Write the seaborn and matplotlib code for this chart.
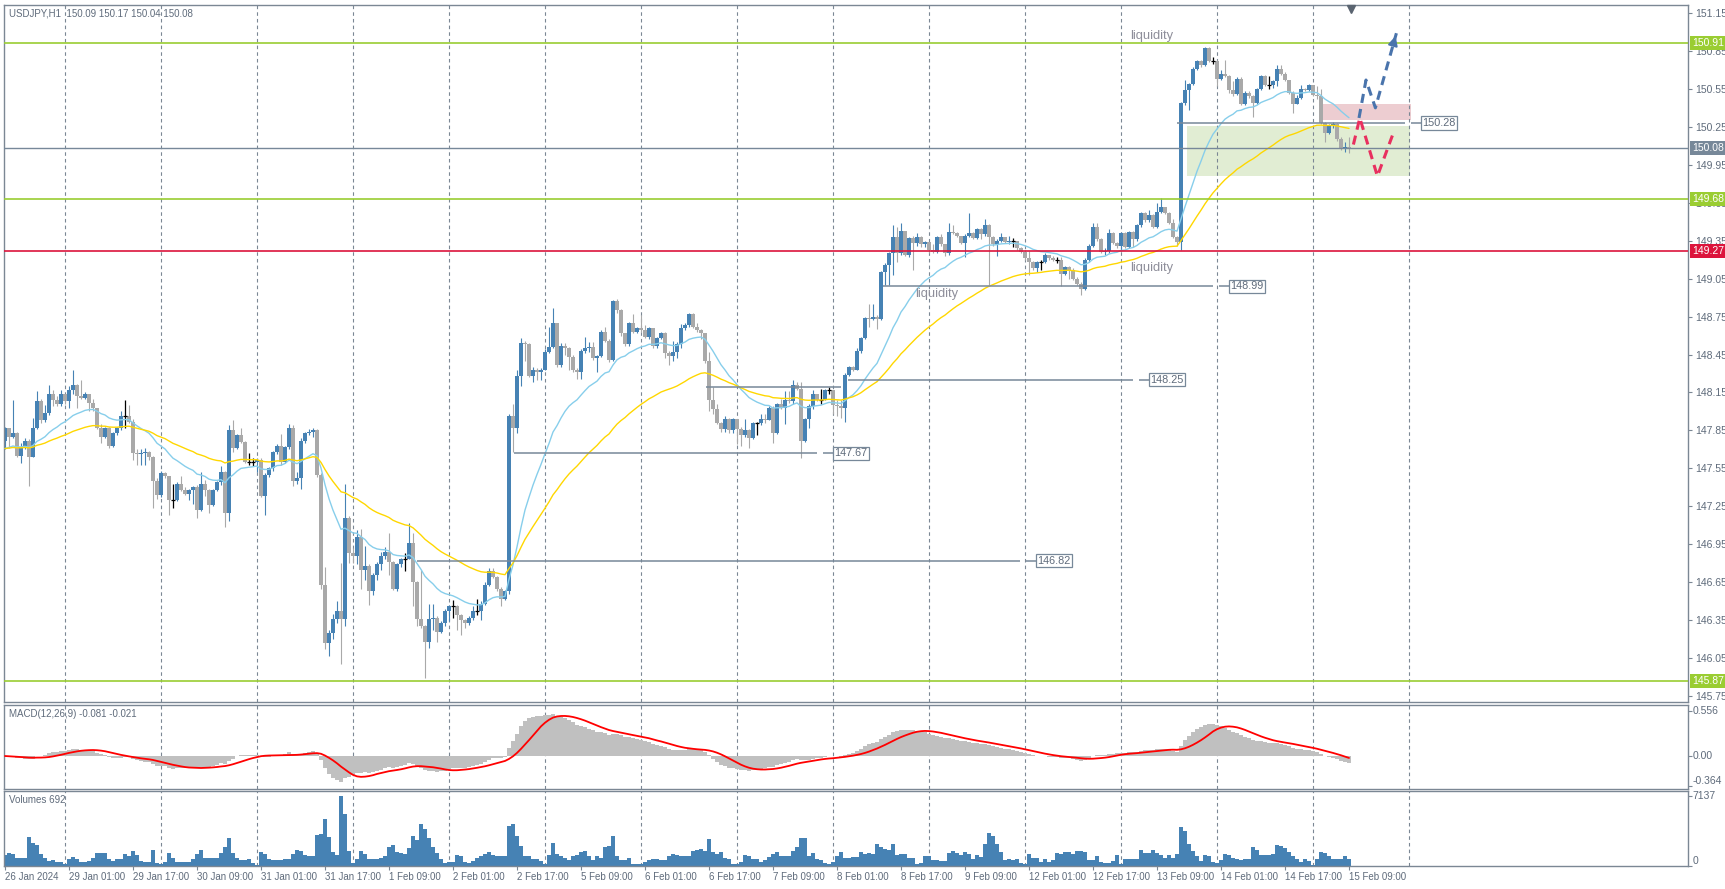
import numpy as np
import pandas as pd
import matplotlib
matplotlib.use("Agg")
import matplotlib.pyplot as plt
from matplotlib.patches import Rectangle
import seaborn as sns

# ---------------- data ----------------
header = "USDJPY,H1  150.09 150.17 150.04 150.08"
macd_header = "MACD(12,26,9) -0.081 -0.021"
volume_header = "Volumes 692"

first_open = 147.77
closes = [
    147.87, 147.80, 147.83, 147.65, 147.72, 147.77, 147.64, 147.87, 148.08, 147.93,
    147.99, 148.14, 148.09, 148.06, 148.14, 148.08, 148.17, 148.21, 148.12, 148.11,
    148.14, 148.07, 148.03, 147.87, 147.80, 147.87, 147.73, 147.83, 147.87, 147.96,
    147.96, 147.92, 147.67, 147.66, 147.67, 147.68, 147.64, 147.45, 147.34, 147.51,
    147.49, 147.30, 147.30, 147.43, 147.38, 147.35, 147.38, 147.40, 147.22, 147.43,
    147.38, 147.26, 147.38, 147.44, 147.52, 147.20, 147.85, 147.71, 147.81, 147.76,
    147.60, 147.60, 147.60, 147.62, 147.33, 147.50, 147.55, 147.68, 147.73, 147.60,
    147.72, 147.87, 147.45, 147.47, 147.77, 147.83, 147.84, 147.85, 147.50, 146.63,
    146.17, 146.25, 146.36, 146.42, 146.36, 147.16, 146.88, 146.86, 147.01, 146.75,
    146.78, 146.58, 146.71, 146.79, 146.86, 146.89, 146.81, 146.60, 146.79, 146.83,
    146.83, 146.96, 146.65, 146.36, 146.30, 146.18, 146.36, 146.37, 146.26, 146.33,
    146.42, 146.46, 146.46, 146.39, 146.35, 146.33, 146.37, 146.42, 146.42, 146.48,
    146.63, 146.74, 146.69, 146.60, 146.52, 146.58, 147.96, 147.87, 148.28, 148.54,
    148.53, 148.28, 148.33, 148.31, 148.33, 148.47, 148.51, 148.70, 148.37, 148.52,
    148.50, 148.43, 148.33, 148.31, 148.48, 148.50, 148.51, 148.42, 148.44, 148.63,
    148.56, 148.41, 148.87, 148.80, 148.62, 148.53, 148.70, 148.63, 148.66, 148.64,
    148.59, 148.66, 148.52, 148.58, 148.62, 148.46, 148.44, 148.47, 148.53, 148.66,
    148.68, 148.77, 148.67, 148.64, 148.62, 148.40, 148.09, 148.02, 147.91, 147.86,
    147.94, 147.85, 147.94, 147.86, 147.81, 147.85, 147.79, 147.91, 147.91, 147.94,
    147.93, 148.03, 147.83, 148.06, 148.03, 148.09, 148.08, 148.21, 148.18, 147.77,
    147.94, 148.04, 148.14, 148.09, 148.09, 148.17, 148.17, 148.05, 148.04, 148.03,
    148.29, 148.35, 148.33, 148.48, 148.58, 148.74, 148.73, 148.75, 148.73, 149.10,
    149.16, 149.25, 149.38, 149.25, 149.43, 149.24, 149.37, 149.33, 149.38, 149.32,
    149.34, 149.28, 149.26, 149.38, 149.32, 149.25, 149.42, 149.41, 149.39, 149.33,
    149.39, 149.41, 149.37, 149.44, 149.40, 149.47, 149.38, 149.32, 149.35, 149.38,
    149.34, 149.35, 149.35, 149.29, 149.26, 149.21, 149.18, 149.13, 149.18, 149.18,
    149.24, 149.21, 149.20, 149.20, 149.09, 149.14, 149.12, 149.05, 149.01, 148.97,
    149.20, 149.31, 149.46, 149.36, 149.26, 149.27, 149.41, 149.33, 149.31, 149.41,
    149.30, 149.42, 149.36, 149.47, 149.57, 149.51, 149.55, 149.46, 149.58, 149.62,
    149.57, 149.49, 149.38, 149.34, 150.44, 150.54, 150.59, 150.71, 150.77, 150.74,
    150.87, 150.77, 150.77, 150.63, 150.67, 150.65, 150.54, 150.51, 150.63, 150.43,
    150.52, 150.49, 150.44, 150.55, 150.65, 150.58, 150.58, 150.61, 150.71, 150.67,
    150.62, 150.52, 150.43, 150.48, 150.55, 150.54, 150.58, 150.50, 150.49, 150.28,
    150.20, 150.26, 150.27, 150.15, 150.08, 150.09, 150.08,
]
highs = [
    147.88, 147.85, 148.09, 147.84, 147.75, 147.79, 147.78, 147.95, 148.16, 148.10,
    148.05, 148.21, 148.17, 148.12, 148.17, 148.14, 148.20, 148.33, 148.22, 148.25,
    148.15, 148.14, 148.10, 148.02, 147.90, 147.88, 147.88, 147.84, 147.88, 148.00,
    148.09, 148.05, 147.94, 147.70, 147.70, 147.71, 147.69, 147.65, 147.47, 147.53,
    147.52, 147.49, 147.43, 147.44, 147.49, 147.40, 147.39, 147.41, 147.42, 147.52,
    147.46, 147.39, 147.39, 147.45, 147.57, 147.53, 147.89, 147.93, 147.82, 147.87,
    147.77, 147.67, 147.63, 147.63, 147.63, 147.51, 147.56, 147.69, 147.74, 147.82,
    147.73, 147.90, 147.89, 147.52, 147.79, 147.84, 147.86, 147.87, 147.86, 147.51,
    146.77, 146.27, 146.40, 146.50, 146.80, 147.43, 147.17, 146.92, 147.06, 147.07,
    146.94, 146.79, 146.72, 146.81, 146.89, 146.93, 147.04, 146.82, 146.80, 146.84,
    146.88, 147.12, 147.04, 146.66, 146.75, 146.31, 146.48, 146.48, 146.38, 146.34,
    146.44, 146.47, 146.51, 146.47, 146.40, 146.36, 146.38, 146.46, 146.52, 146.50,
    146.65, 146.76, 146.76, 146.70, 146.61, 146.59, 147.98, 148.06, 148.33, 148.58,
    148.56, 148.54, 148.35, 148.34, 148.34, 148.49, 148.67, 148.82, 148.68, 148.54,
    148.54, 148.51, 148.45, 148.34, 148.49, 148.59, 148.55, 148.55, 148.45, 148.64,
    148.67, 148.57, 148.88, 148.89, 148.81, 148.61, 148.71, 148.77, 148.67, 148.76,
    148.68, 148.67, 148.66, 148.59, 148.63, 148.63, 148.48, 148.56, 148.55, 148.69,
    148.70, 148.78, 148.78, 148.70, 148.65, 148.62, 148.47, 148.19, 148.06, 147.92,
    147.96, 147.95, 147.95, 147.94, 147.88, 147.94, 147.86, 147.92, 147.92, 147.98,
    147.98, 148.04, 148.04, 148.07, 148.10, 148.16, 148.16, 148.25, 148.23, 148.23,
    147.95, 148.06, 148.17, 148.14, 148.18, 148.18, 148.19, 148.17, 148.09, 148.09,
    148.30, 148.36, 148.36, 148.50, 148.59, 148.75, 148.85, 148.85, 148.76, 149.11,
    149.17, 149.26, 149.47, 149.46, 149.49, 149.43, 149.38, 149.39, 149.41, 149.39,
    149.35, 149.30, 149.32, 149.39, 149.40, 149.32, 149.49, 149.47, 149.42, 149.39,
    149.40, 149.57, 149.42, 149.45, 149.45, 149.52, 149.48, 149.39, 149.36, 149.41,
    149.38, 149.39, 149.37, 149.35, 149.30, 149.28, 149.27, 149.19, 149.19, 149.20,
    149.25, 149.24, 149.23, 149.22, 149.22, 149.15, 149.15, 149.13, 149.06, 149.02,
    149.21, 149.32, 149.49, 149.49, 149.37, 149.29, 149.44, 149.42, 149.34, 149.42,
    149.42, 149.43, 149.43, 149.48, 149.58, 149.58, 149.59, 149.56, 149.65, 149.69,
    149.62, 149.58, 149.52, 149.39, 150.45, 150.62, 150.60, 150.72, 150.78, 150.78,
    150.88, 150.88, 150.80, 150.78, 150.70, 150.78, 150.66, 150.61, 150.64, 150.64,
    150.53, 150.53, 150.50, 150.56, 150.66, 150.66, 150.65, 150.62, 150.74, 150.74,
    150.68, 150.62, 150.53, 150.50, 150.58, 150.56, 150.59, 150.58, 150.57, 150.55,
    150.29, 150.27, 150.29, 150.28, 150.17, 150.13, 150.17,
]
lows = [
    147.70, 147.71, 147.79, 147.64, 147.59, 147.70, 147.41, 147.64, 147.86, 147.91,
    147.92, 147.97, 148.04, 148.04, 148.04, 148.06, 148.03, 148.14, 148.03, 148.10,
    148.10, 148.00, 148.00, 147.86, 147.75, 147.79, 147.71, 147.72, 147.81, 147.85,
    147.87, 147.91, 147.62, 147.58, 147.58, 147.58, 147.62, 147.24, 147.31, 147.32,
    147.47, 147.18, 147.24, 147.29, 147.37, 147.34, 147.30, 147.27, 147.16, 147.21,
    147.33, 147.20, 147.25, 147.37, 147.42, 147.09, 147.13, 147.68, 147.70, 147.75,
    147.59, 147.58, 147.57, 147.52, 147.32, 147.18, 147.48, 147.53, 147.66, 147.58,
    147.59, 147.70, 147.41, 147.43, 147.39, 147.75, 147.81, 147.80, 147.48, 146.60,
    146.12, 146.07, 146.20, 146.33, 146.00, 146.30, 146.80, 146.80, 146.79, 146.60,
    146.67, 146.47, 146.55, 146.67, 146.75, 146.83, 146.71, 146.59, 146.58, 146.77,
    146.74, 146.85, 146.46, 146.30, 146.29, 145.89, 146.13, 146.27, 146.18, 146.25,
    146.30, 146.34, 146.37, 146.27, 146.23, 146.29, 146.31, 146.35, 146.39, 146.35,
    146.47, 146.62, 146.68, 146.58, 146.46, 146.51, 146.56, 147.68, 147.83, 148.20,
    148.40, 148.27, 148.23, 148.25, 148.25, 148.33, 148.46, 148.50, 148.35, 148.35,
    148.45, 148.33, 148.31, 148.26, 148.26, 148.46, 148.47, 148.41, 148.31, 148.43,
    148.55, 148.39, 148.40, 148.78, 148.60, 148.52, 148.52, 148.62, 148.62, 148.63,
    148.58, 148.57, 148.50, 148.50, 148.57, 148.42, 148.37, 148.40, 148.42, 148.50,
    148.64, 148.67, 148.66, 148.63, 148.57, 148.38, 148.00, 147.98, 147.90, 147.84,
    147.84, 147.83, 147.83, 147.74, 147.73, 147.80, 147.71, 147.78, 147.81, 147.89,
    147.91, 147.94, 147.75, 147.82, 148.02, 147.90, 148.07, 148.06, 148.17, 147.63,
    147.76, 147.87, 148.02, 148.08, 148.06, 148.09, 148.14, 147.98, 147.96, 147.95,
    147.92, 148.28, 148.32, 148.33, 148.46, 148.57, 148.67, 148.72, 148.65, 148.72,
    149.00, 149.00, 149.08, 149.18, 149.24, 149.23, 149.22, 149.12, 149.31, 149.30,
    149.30, 149.25, 149.25, 149.25, 149.31, 149.23, 149.24, 149.40, 149.38, 149.32,
    149.22, 149.38, 149.36, 149.36, 149.36, 149.39, 149.00, 149.31, 149.23, 149.34,
    149.33, 149.32, 149.30, 149.28, 149.25, 149.20, 149.08, 149.12, 149.10, 149.12,
    149.17, 149.20, 149.19, 149.17, 148.99, 149.08, 149.05, 149.04, 149.00, 148.92,
    148.96, 149.18, 149.30, 149.35, 149.25, 149.24, 149.25, 149.32, 149.29, 149.27,
    149.29, 149.29, 149.30, 149.35, 149.46, 149.50, 149.50, 149.45, 149.45, 149.57,
    149.56, 149.48, 149.37, 149.31, 149.28, 150.42, 150.38, 150.58, 150.70, 150.72,
    150.73, 150.76, 150.75, 150.57, 150.62, 150.64, 150.52, 150.49, 150.50, 150.42,
    150.42, 150.48, 150.33, 150.43, 150.54, 150.57, 150.55, 150.56, 150.57, 150.66,
    150.61, 150.51, 150.36, 150.43, 150.47, 150.53, 150.53, 150.49, 150.47, 150.27,
    150.13, 150.19, 150.24, 150.14, 150.07, 150.05, 150.04,
]
volumes = [
    1140, 1310, 1200, 860, 860, 860, 3000, 2380, 2100, 1200,
    790, 520, 620, 450, 450, 170, 760, 900, 760, 450,
    450, 520, 830, 1350, 1350, 1350, 760, 480, 760, 760,
    1240, 1000, 1550, 1140, 480, 450, 450, 1650, 310, 240,
    380, 1280, 860, 450, 450, 450, 450, 760, 1240, 1650,
    860, 860, 860, 860, 1350, 1900, 2900, 1350, 860, 590,
    590, 690, 310, 100, 1380, 1240, 720, 650, 650, 650,
    720, 760, 1240, 1620, 1480, 1100, 970, 1040, 3140, 3280,
    4760, 3000, 1450, 1140, 7137, 5310, 1550, 310, 760, 1480,
    1200, 760, 760, 690, 860, 970, 1900, 2170, 1450, 1350,
    1240, 1860, 3040, 2620, 4240, 3800, 2860, 1900, 1310, 720,
    340, 450, 410, 1140, 1070, 450, 280, 550, 860, 970,
    1240, 1450, 1140, 970, 970, 970, 4100, 4240, 3040, 2070,
    970, 970, 760, 760, 520, 210, 1140, 2310, 1240, 970,
    860, 620, 970, 1140, 1380, 1550, 1070, 590, 1070, 860,
    1900, 2000, 3100, 970, 620, 620, 790, 240, 240, 240,
    450, 620, 760, 690, 620, 620, 970, 1200, 1140, 1070,
    970, 1070, 1550, 1650, 1760, 1550, 2800, 1450, 1200, 1450,
    860, 760, 240, 240, 410, 1140, 970, 690, 690, 450,
    620, 930, 1200, 1450, 970, 970, 1070, 1550, 1900, 2900,
    2900, 970, 1280, 760, 590, 280, 240, 380, 1040, 1380,
    830, 830, 930, 930, 1380, 1200, 1350, 1200, 2240, 1900,
    1760, 1600, 2280, 1140, 1200, 1200, 860, 860, 240, 340,
    1040, 1040, 620, 620, 520, 520, 1310, 1550, 1310, 1140,
    1450, 1200, 690, 1100, 900, 2200, 3380, 3040, 2280, 1450,
    590, 760, 590, 690, 310, 170, 1200, 860, 860, 450,
    690, 450, 620, 1350, 1200, 1380, 1380, 1200, 1550, 1550,
    1450, 620, 620, 1070, 450, 280, 280, 520, 1140, 170,
    760, 760, 760, 760, 1650, 1350, 1280, 1620, 1310, 1140,
    860, 1140, 830, 1200, 3930, 3520, 2280, 1550, 970, 520,
    1140, 970, 410, 280, 620, 1240, 1140, 830, 690, 620,
    690, 690, 1900, 1650, 1140, 1140, 1140, 1240, 2170, 2040,
    1790, 1380, 970, 760, 450, 760, 520, 100, 720, 1450,
    1350, 970, 760, 760, 760, 1040, 692,
]
assert len(closes) == len(highs) == len(lows) == len(volumes) == 337

# indicator settings and their values at the left edge
blue_ma_period, blue_ma_start = 20, 147.69
yellow_ma_period, yellow_ma_start = 50, 147.70

price_ticks = [151.15, 150.85, 150.55, 150.25, 149.95, 149.65, 149.35, 149.05, 148.75,
               148.45, 148.15, 147.85, 147.55, 147.25, 146.95, 146.65, 146.35, 146.05, 145.75]
green_levels = [150.91, 149.68, 145.87]
red_level = 149.27
last_price = 150.08
macd_ticks = [0.556, 0.0, -0.364]
macd_tick_labels = ["0.556", "0.00", "-0.364"]
volume_max = 7137

# horizontal trend lines: price, first bar, last bar, has a price tag
trend_prices = [150.28, 148.99, 148.25, 148.19, 147.67, 146.82]
trend_from = [293, 219.5, 210.75, 175.25, 127.25, 103]
trend_to = [350, 302, 282, 209, 203, 253.75]
trend_tagged = [True, True, True, False, True, True]

notes = ["liquidity", "liquidity", "liquidity"]
note_bars = [286.75, 233, 286.75]
note_prices = [150.97, 148.93, 149.13]

# zones: bar from, bar to, price low, price high
sell_zone = (329.25, 351.5, 150.30, 150.43)
buy_zone = (295.5, 351.25, 149.86, 150.26)

# scenario paths (bar, price)
up_path_bars = [338.5, 340.25, 342.6, 347.85]
up_path_prices = [150.32, 150.62, 150.40, 150.99]
down_path_bars = [337.1, 338.7, 343.1, 346.95]
down_path_prices = [150.11, 150.32, 149.86, 150.19]

# ---------------- time axis ----------------
times = list(pd.date_range("2024-01-26 09:00", "2024-01-26 23:00", freq="h"))
for day in pd.bdate_range("2024-01-29", "2024-02-14"):
    times += list(pd.date_range(day, periods=24, freq="h"))
times += list(pd.date_range("2024-02-15 00:00", "2024-02-15 09:00", freq="h"))
times = pd.DatetimeIndex(times)
n = len(times)
idx = np.arange(n)
day_breaks = list(idx[times.hour == 0]) + [n - 1 + (24 - times[-1].hour)]
label_pos = list(range(0, n, 16))
label_txt = ["26 Jan 2024"] + [times[i].strftime("%-d %b %H:%M") for i in label_pos[1:]]

# ---------------- indicators ----------------
C = np.array(closes)
O = np.array([first_open] + closes[:-1])
Hh = np.maximum(np.array(highs), np.maximum(O, C))
Ll = np.minimum(np.array(lows), np.minimum(O, C))


def ema(values, period, start):
    a = 2.0 / (period + 1)
    out, prev = [], start
    for v in values:
        prev = prev + a * (v - prev)
        out.append(prev)
    return np.array(out)


blue_ma = ema(C, blue_ma_period, blue_ma_start)
yellow_ma = ema(C, yellow_ma_period, yellow_ma_start)
macd_main = ema(C, 12, C[0]) - ema(C, 26, C[0])
macd_signal = pd.Series(macd_main).rolling(9, min_periods=1).mean().values

# ---------------- style ----------------
sns.set_theme(style="white")
plt.rcParams["font.family"] = ["Liberation Sans", "DejaVu Sans"]
frame_c = "#7b8794"
text_c = "#5f6b7b"
bull_c = "#4682B4"
bear_c = "#A9A9A9"

W, H = 1725, 889
fig = plt.figure(figsize=(W / 100, H / 100), dpi=100)
fig.patch.set_facecolor("white")


def panel(top, bottom):
    a = fig.add_axes([4 / W, 1 - bottom / H, 1684 / W, (bottom - top) / H])
    a.set_xlim(-0.25, 420.75)
    a.set_facecolor("white")
    for s in a.spines.values():
        s.set_color(frame_c)
        s.set_linewidth(1)
    a.set_xticks([])
    a.yaxis.tick_right()
    a.tick_params(axis="y", direction="out", length=3, width=0.8, color=frame_c,
                  labelsize=7.5, labelcolor=text_c, pad=2)
    for b in day_breaks:
        a.axvline(b, color=frame_c, lw=0.8, ls=(0, (3.2, 2.8)), zorder=1)
    return a


ax = panel(4.5, 702)
axm = panel(705, 789)
axv = panel(791, 866)

# ---------------- main price panel ----------------
ax.set_ylim(145.703, 151.217)
ax.set_yticks(price_ticks)
ax.set_yticklabels([f"{p:.2f}" for p in price_ticks])

for (b0, b1, p0, p1), col in [(buy_zone, "#E1EDD3"), (sell_zone, "#EDCDD1")]:
    ax.add_patch(Rectangle((b0, p0), b1 - b0, p1 - p0, facecolor=col, edgecolor="none", zorder=0.5))

diff = np.round(C - O, 4)
bull = diff > 0
bear = diff < 0
doji = diff == 0
body_lo = np.minimum(O, C)
body_h = np.maximum(np.abs(diff), 0.008)
for mask, col in [(bull, bull_c), (bear, bear_c)]:
    ax.vlines(idx[mask], Ll[mask], Hh[mask], color=col, lw=0.8, zorder=2)
    ax.bar(idx[mask], body_h[mask], bottom=body_lo[mask], width=0.78, color=col, lw=0, zorder=2)
ax.vlines(idx[doji], Ll[doji], Hh[doji], color="black", lw=0.9, zorder=2)
ax.hlines(C[doji], idx[doji] - 0.55, idx[doji] + 0.55, color="black", lw=0.9, zorder=2)

sns.lineplot(x=idx, y=blue_ma, ax=ax, color="#87CEEB", lw=1.0, zorder=3)
sns.lineplot(x=idx, y=yellow_ma, ax=ax, color="#FFD700", lw=1.0, zorder=3)
ax.set_xlabel("")
ax.set_ylabel("")
ax.set_xlim(-0.25, 420.75)

for p in green_levels:
    ax.axhline(p, color="#9ACD32", lw=1.2, zorder=4)
ax.axhline(red_level, color="#DC143C", lw=1.2, zorder=4)
ax.axhline(last_price, color="#778899", lw=1.0, zorder=4)

for p, b0, b1, tag in zip(trend_prices, trend_from, trend_to, trend_tagged):
    ax.hlines(p, b0, b1, color="#778899", lw=1.1, zorder=4)
    if tag:
        ax.hlines(p, b1 + 1.5, b1 + 4, color="#778899", lw=1.1, zorder=4)
        ax.text(b1 + 4.3, p, f"{p:.2f}", fontsize=7.8, color=text_c, va="center", ha="left", zorder=5,
                bbox=dict(boxstyle="square,pad=0.15", facecolor="white", edgecolor="#778899", lw=0.9))

for t, b, p in zip(notes, note_bars, note_prices):
    ax.text(b, p, t, fontsize=9.3, color="#8e8e9a", ha="center", va="center", zorder=5)

ax.plot(up_path_bars, up_path_prices, color="#4A74AC", lw=2.2, ls=(0, (3, 2)), zorder=6,
        solid_capstyle="butt")
ax.annotate("", xy=(up_path_bars[-1], up_path_prices[-1]),
            xytext=(up_path_bars[-1] - 0.9, up_path_prices[-1] - 0.1),
            arrowprops=dict(arrowstyle="-|>", color="#4A74AC", lw=1.5, mutation_scale=14), zorder=6)
ax.plot(down_path_bars, down_path_prices, color="#E8305F", lw=2.2, ls=(0, (3, 2)), zorder=6)

ax.plot([336.5], [0.994], marker="v", color="#5a6470", markersize=6,
        transform=ax.get_xaxis_transform(), clip_on=False, zorder=7)

ytr = ax.get_yaxis_transform()
for p in green_levels:
    ax.text(1.0022, p, f"{p:.2f}", transform=ytr, fontsize=7.5, color="white", va="center", ha="left",
            clip_on=False, zorder=8, bbox=dict(boxstyle="square,pad=0.2", facecolor="#9ACD32", edgecolor="none"))
ax.text(1.0022, red_level, f"{red_level:.2f}", transform=ytr, fontsize=7.5, color="white", va="center",
        ha="left", clip_on=False, zorder=8,
        bbox=dict(boxstyle="square,pad=0.2", facecolor="#DC143C", edgecolor="none"))
ax.text(1.0022, last_price, f"{last_price:.2f}", transform=ytr, fontsize=7.5, color="white", va="center",
        ha="left", clip_on=False, zorder=8,
        bbox=dict(boxstyle="square,pad=0.2", facecolor="#778899", edgecolor="none"))

fig.text(9 / W, 1 - 13 / H, header, fontsize=7, color=text_c, va="center", ha="left")

# ---------------- MACD panel ----------------
axm.set_ylim(-0.404, 0.625)
axm.bar(idx, macd_main, width=0.78, color="#C0C0C0", lw=0, zorder=2)
sns.lineplot(x=idx, y=macd_signal, ax=axm, color="#FF0000", lw=1.3, zorder=3)
axm.set_xlabel("")
axm.set_ylabel("")
axm.set_xlim(-0.25, 420.75)
axm.set_yticks(macd_ticks)
axm.set_yticklabels(["", "", ""])
mtr = axm.get_yaxis_transform()
for v, lab in zip(macd_ticks, macd_tick_labels):
    axm.text(1.0028, v, lab, transform=mtr, fontsize=7.5, color=text_c, ha="left",
             va="bottom" if v < 0 else "center", clip_on=False)
fig.text(9 / W, 1 - 714 / H, macd_header, fontsize=7, color=text_c, va="center", ha="left")

# ---------------- volume panel ----------------
axv.set_ylim(0, 7650)
axv.bar(idx, volumes, width=0.78, color=bull_c, lw=0, zorder=2)
axv.set_yticks([volume_max, 0])
axv.set_yticklabels(["", ""])
vtr = axv.get_yaxis_transform()
axv.text(1.0028, volume_max, str(volume_max), transform=vtr, fontsize=7.5, color=text_c,
         ha="left", va="center", clip_on=False)
axv.text(1.0028, 0, "0", transform=vtr, fontsize=7.5, color=text_c, ha="left", va="bottom", clip_on=False)
fig.text(9 / W, 1 - 800 / H, volume_header, fontsize=7, color=text_c, va="center", ha="left")

axv.set_xticks(label_pos)
axv.set_xticklabels(label_txt)
axv.tick_params(axis="x", direction="out", length=3, width=0.8, color=frame_c,
                labelsize=7, labelcolor=text_c, pad=1.5, bottom=True)
for lab in axv.get_xticklabels():
    lab.set_horizontalalignment("left")

fig.savefig("out.png", dpi=100, facecolor="white")
